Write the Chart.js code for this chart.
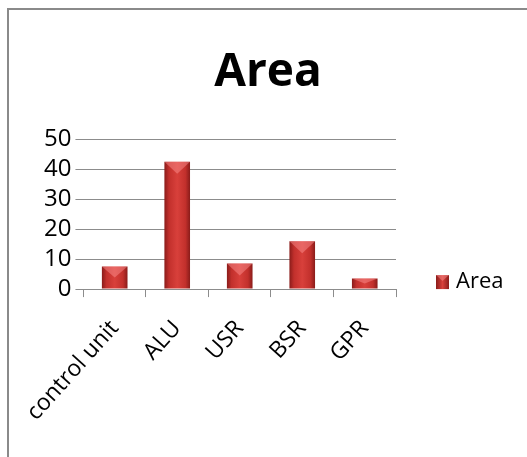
<!DOCTYPE html>
<html>
<head>
<meta charset="utf-8">
<script src="https://cdn.jsdelivr.net/npm/chart.js@4"></script>
<style>
  html, body { margin:0; padding:0; background:#fff; }
  #wrap { position:relative; width:527px; height:457px; overflow:hidden; }
  #frame { position:absolute; left:7px; top:8px; width:600px; height:600px; border-left:2px solid #8a8a8a; border-top:2px solid #8a8a8a; }
  #c { position:absolute; left:0; top:0; }
</style>
</head>
<body>
<div id="wrap">
  <div id="frame"></div>
  <canvas id="c" width="527" height="457"></canvas>
</div>
<script>
// ---- data ----
const categories = ['control unit', 'ALU', 'USR', 'BSR', 'GPR'];
const areaValues = [7.5, 42.5, 8.5, 16, 3.5];
const yTicks = [0, 10, 20, 30, 40, 50];
const seriesName = 'Area';

const FONT = "'Open Sans', Lato, sans-serif";
const BAR_PCT = 0.41;

// horizontal shading across each bar, like the bevelled Excel bars
function barFill(ctx) {
  const chart = ctx.chart;
  const xs = chart.scales.x;
  if (!xs || !xs.width) return '#c0302e';
  const cx = xs.getPixelForValue(ctx.dataIndex);
  const w = xs.width / categories.length * BAR_PCT;
  const g = chart.ctx.createLinearGradient(cx - w / 2, 0, cx + w / 2, 0);
  g.addColorStop(0, '#8a1c1a');
  g.addColorStop(0.18, '#c2302c');
  g.addColorStop(0.5, '#d8403b');
  g.addColorStop(0.82, '#c2302c');
  g.addColorStop(1, '#8a1c1a');
  return g;
}

// light bevel on top of each bar + legend next to the x axis
const bevelAndLegend = {
  id: 'bevelAndLegend',
  afterDatasetsDraw(chart) {
    const c = chart.ctx;
    chart.getDatasetMeta(0).data.forEach(bar => {
      const p = bar.getProps(['x', 'y', 'base', 'width'], true);
      const h = Math.min(12, (p.base - p.y) / 2);
      c.save();
      c.fillStyle = 'rgba(255,150,150,0.45)';
      c.beginPath();
      c.moveTo(p.x - p.width / 2, p.y);
      c.lineTo(p.x + p.width / 2, p.y);
      c.lineTo(p.x, p.y + h);
      c.closePath();
      c.fill();
      c.restore();
    });
  },
  afterDraw(chart) {
    const c = chart.ctx;
    const a = chart.chartArea;
    const y = a.bottom - 7;
    const x = a.right + 40;
    c.save();
    const g = c.createLinearGradient(x, 0, x + 13, 0);
    g.addColorStop(0, '#8a1c1a'); g.addColorStop(0.5, '#d8403b'); g.addColorStop(1, '#8a1c1a');
    c.fillStyle = g;
    c.fillRect(x, y - 7, 13, 14);
    c.fillStyle = 'rgba(255,150,150,0.45)';
    c.beginPath();
    c.moveTo(x, y - 7); c.lineTo(x + 13, y - 7); c.lineTo(x + 6.5, y - 1);
    c.closePath(); c.fill();
    c.fillStyle = '#000';
    c.font = '22px ' + FONT;
    c.textBaseline = 'middle';
    c.fillText(seriesName, x + 20, y);
    c.restore();
  }
};

new Chart(document.getElementById('c'), {
  type: 'bar',
  data: {
    labels: categories,
    datasets: [{
      label: seriesName,
      data: areaValues,
      backgroundColor: barFill,
      borderWidth: 0,
      barPercentage: BAR_PCT,
      categoryPercentage: 1
    }]
  },
  options: {
    responsive: false,
    animation: false,
    devicePixelRatio: 1,
    layout: { padding: { left: 40, right: 31, top: 45, bottom: 13 } },
    plugins: {
      title: {
        display: true, text: 'Area', color: '#000',
        font: { family: FONT, size: 46, weight: 'bold' },
        padding: { top: 0, bottom: 39 }
      },
      legend: { display: false },
      tooltip: { enabled: false }
    },
    scales: {
      x: {
        offset: true,
        grid: { display: true, drawOnChartArea: false, drawTicks: true, tickLength: 8, color: '#8c8c8c', offset: true },
        border: { display: true, color: '#8c8c8c' },
        ticks: { color: '#000', minRotation: 48, maxRotation: 48, padding: 18, font: { family: FONT, size: 23 } }
      },
      y: {
        min: 0, max: 50,
        afterBuildTicks: axis => { axis.ticks = yTicks.map(v => ({ value: v })); },
        grid: { color: '#8c8c8c', tickLength: 8, drawTicks: true },
        border: { display: false },
        ticks: { color: '#000', padding: 4, autoSkip: false, font: { family: FONT, size: 24 } }
      },
      // empty axis on the right, only keeps room for the legend
      legendRoom: {
        type: 'linear', position: 'right', display: true,
        grid: { display: false }, border: { display: false }, ticks: { display: false },
        afterFit: axis => { axis.width = 100; }
      }
    }
  },
  plugins: [bevelAndLegend]
});
</script>
</body>
</html>
